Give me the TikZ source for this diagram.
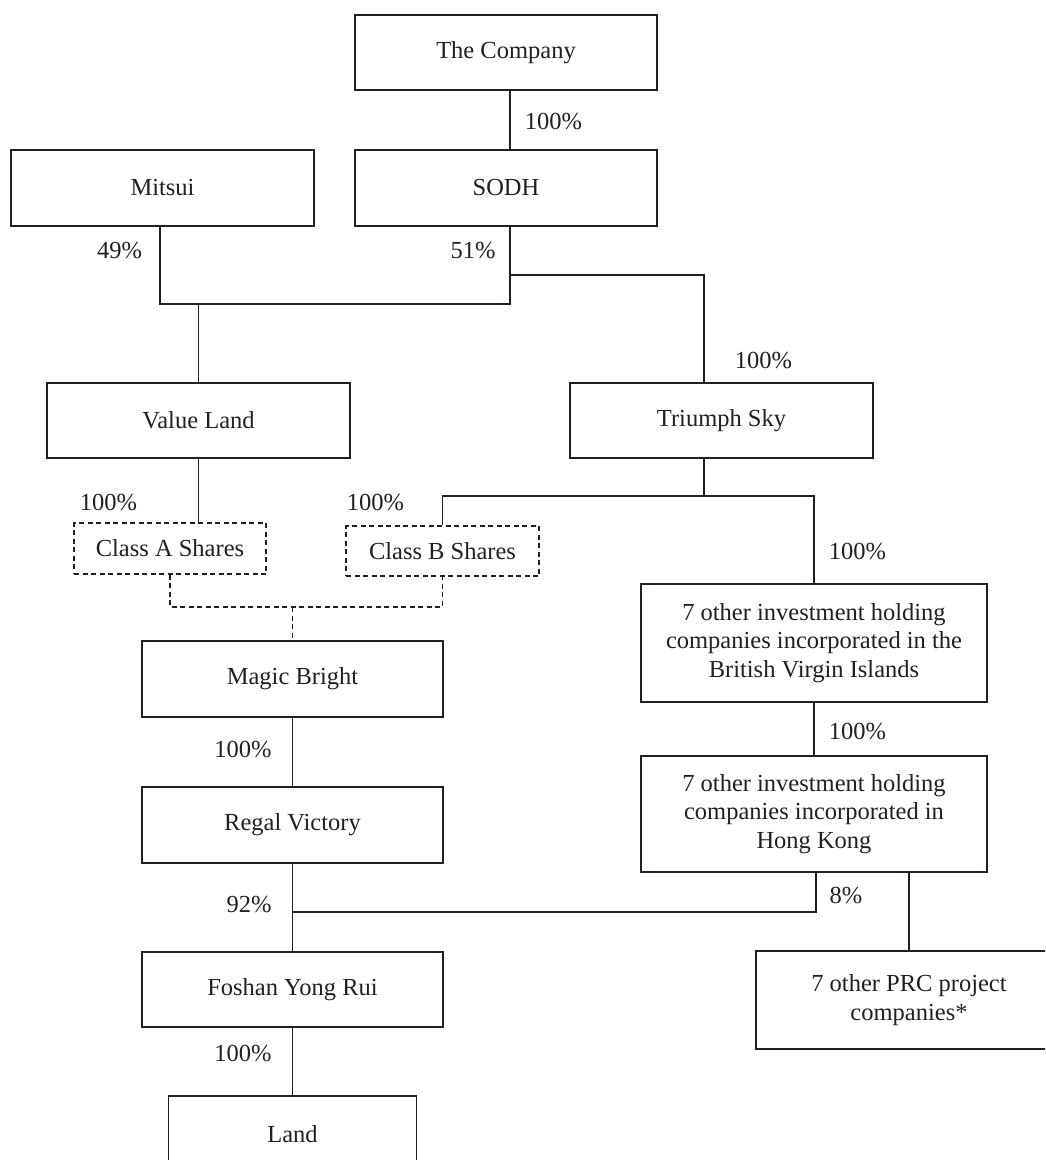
\documentclass[tikz,border=0pt]{standalone}
\usepackage{fontspec}
\setmainfont{Liberation Serif}
\definecolor{inkc}{HTML}{231F20}
\begin{document}
\begin{tikzpicture}[x=1pt,y=-1pt,
  txt/.style={text=inkc, font=\fontsize{24.5}{28.5}\selectfont},
  box/.style={txt, draw=inkc, line width=1.3pt, rectangle, inner sep=0pt, align=center},
  dbox/.style={box, dash pattern=on 5pt off 3.5pt, line width=1.1pt},
  pct/.style={txt, inner sep=0pt},
  conn/.style={draw=inkc, line width=1.3pt},
  dconn/.style={draw=inkc, dash pattern=on 5pt off 3.5pt, line width=1.1pt}]
\useasboundingbox (0,0) rectangle (1045,1160);
\clip (0,0) rectangle (1045,1160);

% boxes
\node[box, minimum width=302pt, minimum height=75pt] (company) at (506,52.5) {The Company};
\node[box, minimum width=303pt, minimum height=76pt] (mitsui) at (162.5,188) {Mitsui};
\node[box, minimum width=302pt, minimum height=76pt] (sodh) at (506,188) {SODH};
\node[box, minimum width=303pt, minimum height=75pt] (valueland) at (198.5,420.5) {Value Land};
\node[box, minimum width=303pt, minimum height=75pt] (triumph) at (721.5,420.5) {Triumph Sky};
\node[dbox, minimum width=192pt, minimum height=51pt] (classA) at (170,548.5) {Class A Shares};
\node[dbox, minimum width=193pt, minimum height=50pt] (classB) at (442.5,551) {Class B Shares};
\node[box, minimum width=346pt, minimum height=118pt] (bvi) at (814,643) {7 other investment holding\\companies incorporated in the\\British Virgin Islands};
\node[box, minimum width=346pt, minimum height=116pt] (hk) at (814,814) {7 other investment holding\\companies incorporated in\\Hong Kong};
\node[box, minimum width=301pt, minimum height=76pt] (magic) at (292.5,679) {Magic Bright};
\node[box, minimum width=301pt, minimum height=76pt] (regal) at (292.5,825) {Regal Victory};
\node[box, minimum width=301pt, minimum height=75pt] (foshan) at (292.5,989.5) {Foshan Yong Rui};
\node[box, minimum width=248pt, minimum height=76pt] (land) at (292.5,1134) {Land};
\node[box, minimum width=306pt, minimum height=98pt] (prc) at (909,1000) {7 other PRC project\\companies*};

% junctions
\coordinate (jA) at (198.5,304);
\coordinate (jB) at (510,275);
\coordinate (jC) at (704,496);
\coordinate (jD) at (292.5,607);
\coordinate (jE) at (292.5,912);

% connectors
\draw[conn] ([xshift=4pt]company.south) -- ([xshift=4pt]sodh.north);
\draw[conn] ([xshift=-2.5pt]mitsui.south) |- (jA) -| ([xshift=4pt]sodh.south);
\draw[conn] (jA) -- (valueland.north);
\draw[conn] (jB) -| ([xshift=-17.5pt]triumph.north);
\draw[conn] ([xshift=-17.5pt]triumph.south) -- (jC);
\draw[conn] (classB.north) |- (jC) -| (bvi.north);
\draw[conn] (valueland.south) -- (valueland.south |- classA.north);
\draw[dconn] (classA.south) |- (jD) -| (classB.south);
\draw[dconn] (jD) -- (magic.north);
\draw[conn] (magic.south) -- (regal.north);
\draw[conn] (regal.south) -- (foshan.north);
\draw[conn] (foshan.south) -- (land.north);
\draw[conn] (bvi.south) -- (hk.north);
\draw[conn] ([xshift=2pt]hk.south) |- (jE);
\draw[conn] (prc.north |- hk.south) -- (prc.north);

% percentage labels
\node[pct] (p1) at (553.5,122) {100\%};
\node[pct] (p2) at (119.5,251) {49\%};
\node[pct] (p3) at (473,251) {51\%};
\node[pct] (p4) at (763.5,361) {100\%};
\node[pct] (p5) at (108.5,503) {100\%};
\node[pct] (p6) at (375.5,503) {100\%};
\node[pct] (p7) at (857.5,552) {100\%};
\node[pct] (p8) at (857.5,732) {100\%};
\node[pct] (p9) at (846,896) {8\%};
\node[pct] (p10) at (243,750) {100\%};
\node[pct] (p11) at (249,905) {92\%};
\node[pct] (p12) at (243,1054) {100\%};
\end{tikzpicture}
\end{document}
